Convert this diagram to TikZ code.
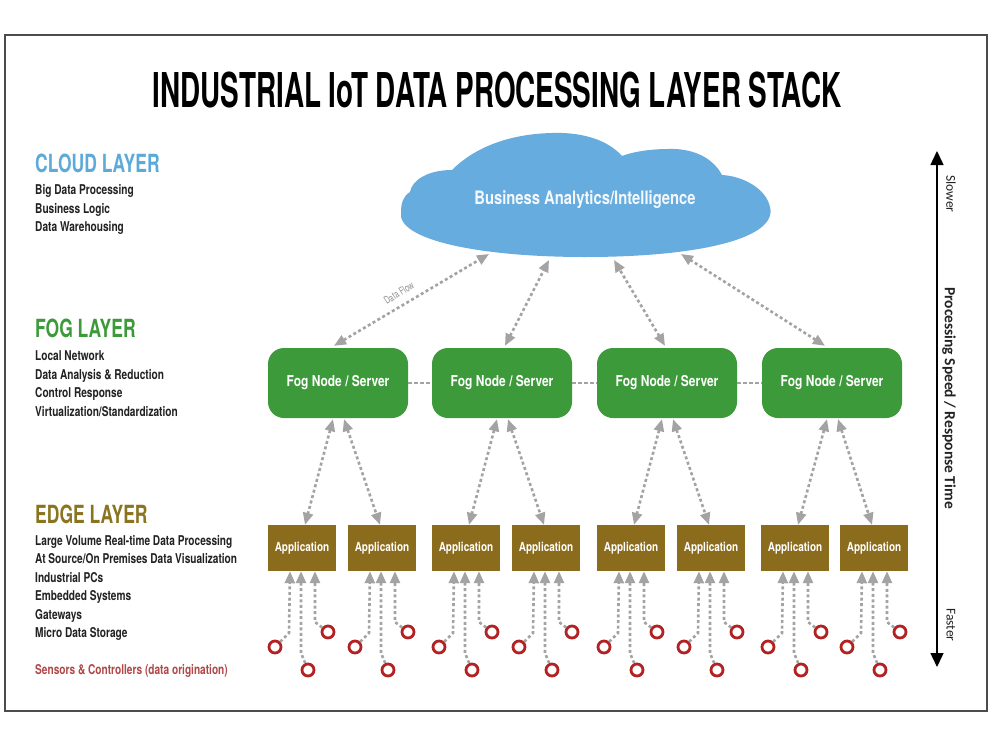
\documentclass[tikz,border=0pt]{standalone}
\usepackage{fontspec}
\setmainfont{TeX Gyre Heros}
\newfontfamily\titlefont[FakeStretch=0.58]{TeX Gyre Heros}
\newfontfamily\condfont[FakeStretch=0.7]{TeX Gyre Heros}
\newfontfamily\bodyfont[FakeStretch=0.75]{TeX Gyre Heros}
\newfontfamily\boxfont[FakeStretch=0.8]{TeX Gyre Heros}
\newfontfamily\axisfont{Carlito}
\usetikzlibrary{arrows.meta}
\definecolor{cloudblue}{HTML}{66ACDF}
\definecolor{cloudhdr}{HTML}{5DAAD8}
\definecolor{foggreen}{HTML}{3D9A3A}
\definecolor{appbrown}{HTML}{8B6B1C}
\definecolor{edgehdr}{HTML}{8B7420}
\definecolor{sensred}{HTML}{B22222}
\definecolor{senstxt}{HTML}{B04848}
\definecolor{flowgray}{HTML}{A3A3A3}
\definecolor{txtdark}{HTML}{222222}
\tikzset{
  hdr/.style={font=\condfont\bfseries\fontsize{25}{27}\selectfont, anchor=base west, inner sep=0pt},
  body/.style={font=\bodyfont\bfseries\fontsize{13.5}{15}\selectfont, anchor=base west, inner sep=0pt, text=txtdark},
  fognode/.style={fill=foggreen, rounded corners=16pt, minimum width=140pt, minimum height=70pt, text=white, font=\boxfont\bfseries\fontsize{15}{17}\selectfont},
  appnode/.style={fill=appbrown, minimum width=68pt, minimum height=46pt, text=white, font=\boxfont\bfseries\fontsize{12.5}{14}\selectfont, inner sep=0pt},
  sensor/.style={circle, draw=sensred, line width=2.8pt, minimum size=12pt, inner sep=0pt},
  flowline/.style={draw=flowgray, line width=2.6pt, dash pattern=on 3pt off 2.6pt},
  flowtwo/.style={flowline, {Triangle[length=12pt,width=10pt,fill=flowgray]}-{Triangle[length=12pt,width=10pt,fill=flowgray]}},
  flowone/.style={flowline, -{Triangle[length=12pt,width=10pt,fill=flowgray]}},
  fogconn/.style={draw=flowgray, line width=2.2pt, dash pattern=on 4pt off 2pt},
  axistxt/.style={font=\axisfont\fontsize{13.5}{15}\selectfont, rotate=-90, text=txtdark},
}
\begin{document}
\begin{tikzpicture}[x=1pt, y=-1pt]
\useasboundingbox (0,0) rectangle (996,742);
\fill[white] (0,0) rectangle (996,742);
\draw[line width=1.2pt, black!70] (5,35) rectangle (987,711);

% title
\node[font=\titlefont\bfseries\fontsize{48}{50}\selectfont, inner sep=0pt] (title) at (497,90) {INDUSTRIAL IoT DATA PROCESSING LAYER STACK};

% left texts
\node[hdr, text=cloudhdr] (hcloud) at (35,172) {CLOUD LAYER};
\node[body] (c1t) at (35,194) {Big Data Processing};
\node[body] (c2t) at (35,213) {Business Logic};
\node[body] (c3t) at (35,231) {Data Warehousing};

\node[hdr, text=foggreen] (hfog) at (35,337) {FOG LAYER};
\node[body] (f1t) at (35,360) {Local Network};
\node[body] (f2t) at (35,379) {Data Analysis \& Reduction};
\node[body] (f3t) at (35,397) {Control Response};
\node[body] (f4t) at (35,416) {Virtualization/Standardization};

\node[hdr, text=edgehdr] (hedge) at (35,523) {EDGE LAYER};
\node[body] (e1t) at (35,545) {Large Volume Real-time Data Processing};
\node[body] (e2t) at (35,563) {At Source/On Premises Data Visualization};
\node[body] (e3t) at (35,582) {Industrial PCs};
\node[body] (e4t) at (35,600) {Embedded Systems};
\node[body] (e5t) at (35,619) {Gateways};
\node[body] (e6t) at (35,637) {Micro Data Storage};
\node[body, text=senstxt] (st) at (35,674) {Sensors \& Controllers (data origination)};

% cloud
\fill[cloudblue] (401,212)
  .. controls (396,240) and (480,257) .. (585,257)
  .. controls (700,257) and (778,238) .. (770,207)
  .. controls (766,188) and (742,176) .. (722,175)
  .. controls (712,156) and (690,148) .. (668,149)
  .. controls (650,149) and (632,152) .. (622,156)
  .. controls (606,138) and (578,132) .. (552,133)
  .. controls (508,134) and (474,148) .. (452,170)
  .. controls (428,170) and (412,180) .. (410,192)
  .. controls (403,196) and (401,204) .. (401,212) -- cycle;
\node[font=\boxfont\bfseries\fontsize{18.5}{20}\selectfont, text=white!92!cloudblue] (cloud) at (585,200) {Business Analytics/Intelligence};
\coordinate (cb1) at (489,254);
\coordinate (cb2) at (549,260);
\coordinate (cb3) at (614,260);
\coordinate (cb4) at (681,254);

% fog nodes
\node[fognode] (f1) at (338,383) {Fog Node / Server};
\node[fognode] (f2) at (502,383) {Fog Node / Server};
\node[fognode] (f3) at (667,383) {Fog Node / Server};
\node[fognode] (f4) at (832,383) {Fog Node / Server};
\draw[fogconn] (f1) -- (f2);
\draw[fogconn] (f2) -- (f3);
\draw[fogconn] (f3) -- (f4);

% fog to cloud
\draw[flowtwo] ([xshift=-4pt,yshift=2pt]f1.north) -- (cb1);
\draw[flowtwo] ([xshift=3pt,yshift=2pt]f2.north) -- (cb2);
\draw[flowtwo] ([xshift=-2pt,yshift=2pt]f3.north) -- (cb3);
\draw[flowtwo] ([xshift=-7pt,yshift=2pt]f4.north) -- (cb4);
\node[font=\condfont\fontsize{10.5}{11}\selectfont, text=flowgray!90!black, rotate=32, inner sep=1pt] (dflow) at (399,293) {Data Flow};

% applications
\foreach \i/\cx in {1/302,2/382,3/466,4/546,5/631,6/711,7/795,8/874}{
  \node[appnode] (a\i) at (\cx,548) {Application};
  \node[sensor] (sa\i) at (\cx-27,647) {};
  \node[sensor] (sb\i) at (\cx+6,670) {};
  \node[sensor] (sc\i) at (\cx+26,632) {};
  \draw[flowone] (sa\i) -- ++(14,-14) -- ([xshift=-12pt]a\i.south);
  \draw[flowone] (sb\i) -- ++(-7,-17) -- ([xshift=-1pt]a\i.south);
  \draw[flowone] (sc\i) -- ++(-13,-10) -- ([xshift=13pt]a\i.south);
}

% fog to applications
\draw[flowtwo] ([xshift=-5pt,yshift=-1pt]f1.south) -- ([xshift=3pt]a1.north);
\draw[flowtwo] ([xshift=6pt,yshift=-1pt]f1.south) -- ([xshift=-2pt]a2.north);
\draw[flowtwo] ([xshift=-5pt,yshift=-1pt]f2.south) -- ([xshift=3pt]a3.north);
\draw[flowtwo] ([xshift=6pt,yshift=-1pt]f2.south) -- ([xshift=-2pt]a4.north);
\draw[flowtwo] ([xshift=-5pt,yshift=-1pt]f3.south) -- ([xshift=3pt]a5.north);
\draw[flowtwo] ([xshift=6pt,yshift=-1pt]f3.south) -- ([xshift=-2pt]a6.north);
\draw[flowtwo] ([xshift=-5pt,yshift=-1pt]f4.south) -- ([xshift=3pt]a7.north);
\draw[flowtwo] ([xshift=6pt,yshift=-1pt]f4.south) -- ([xshift=-2pt]a8.north);

% axis
\coordinate (ax1) at (937,151);
\coordinate (ax2) at (937,667);
\draw[line width=1.4pt, {Triangle[length=14pt,width=13pt]}-{Triangle[length=14pt,width=13pt]}] (ax1) -- (ax2);
\node[axistxt] (slow) at (951,194) {Slower};
\node[axistxt, font=\axisfont\bfseries\fontsize{15.5}{17}\selectfont] (pst) at (949,398) {Processing Speed / Response Time};
\node[axistxt] (fast) at (951,625) {Faster};
\end{tikzpicture}
\end{document}
